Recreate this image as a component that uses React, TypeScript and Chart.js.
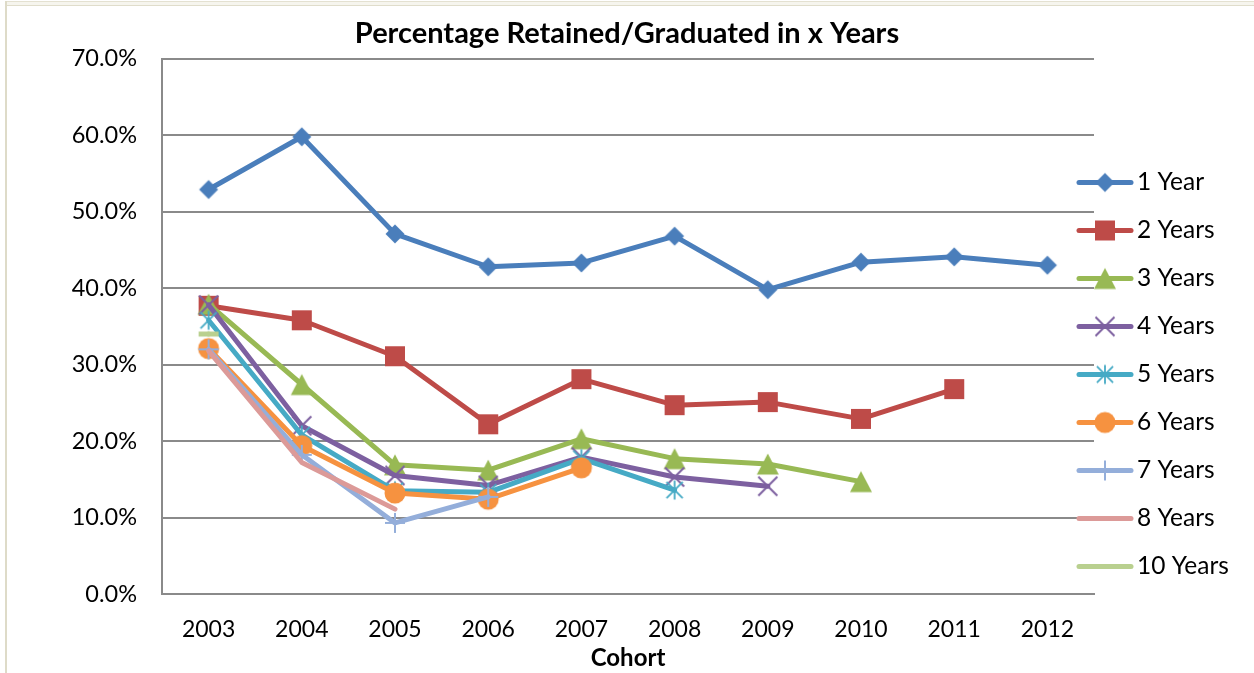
import React, { useEffect, useRef } from 'react';
import { Chart, registerables } from 'chart.js';

Chart.register(...registerables);

// ---------- data ----------
const categories = ['2003', '2004', '2005', '2006', '2007', '2008', '2009', '2010', '2011', '2012'];
const seriesNames = ['1 Year', '2 Years', '3 Years', '4 Years', '5 Years', '6 Years', '7 Years', '8 Years', '10 Years'];

const oneYear = [52.9, 59.8, 47.1, 42.8, 43.3, 46.8, 39.8, 43.4, 44.1, 43.0];
const twoYears = [37.7, 35.8, 31.1, 22.2, 28.1, 24.7, 25.1, 22.9, 26.8, null];
const threeYears = [37.9, 27.4, 16.9, 16.2, 20.3, 17.7, 17.0, 14.7, null, null];
const fourYears = [37.8, 22.0, 15.5, 14.2, 17.9, 15.3, 14.1, null, null, null];
const fiveYears = [35.8, 20.8, 13.5, 13.3, 17.7, 13.6, null, null, null, null];
const sixYears = [32.1, 19.4, 13.2, 12.4, 16.5, null, null, null, null, null];
const sevenYears = [32.0, 18.2, 9.3, 12.7, null, null, null, null, null, null];
const eightYears = [31.8, 17.2, 11.1, null, null, null, null, null, null, null];
const tenYears = [34.0, null, null, null, null, null, null, null, null, null];

const yMin = 0;
const yMax = 70;
const yStep = 10;

const chartTitle = 'Percentage Retained/Graduated in x Years';
const xTitle = 'Cohort';

// ---------- styles ----------
const FONT = 'Lato, "Open Sans", sans-serif';
const colors = ['#4A7EBB', '#BE4B48', '#98B954', '#7D60A0', '#46AAC5', '#F69240', '#94AEDA', '#DC9A98', '#B9D08F'];
const markerKinds = ['diamond', 'square', 'triangle', 'x', 'asterisk', 'circle', 'plus', 'none', 'dash'];
const seriesData = [oneYear, twoYears, threeYears, fourYears, fiveYears, sixYears, sevenYears, eightYears, tenYears];

function makeMarker(kind: string, color: string): HTMLCanvasElement | null {
  if (kind === 'none') return null;
  const s = 24;
  const c = document.createElement('canvas');
  c.width = s;
  c.height = s;
  const ctx = c.getContext('2d')!;
  const m = s / 2;
  ctx.fillStyle = color;
  ctx.strokeStyle = color;
  ctx.lineCap = 'butt';
  switch (kind) {
    case 'diamond': {
      const h = 9.5;
      ctx.beginPath();
      ctx.moveTo(m, m - h);
      ctx.lineTo(m + h, m);
      ctx.lineTo(m, m + h);
      ctx.lineTo(m - h, m);
      ctx.closePath();
      ctx.fill();
      break;
    }
    case 'square': {
      const h = 10;
      ctx.fillRect(m - h, m - h, 2 * h, 2 * h);
      break;
    }
    case 'triangle': {
      const hw = 11;
      const hh = 10.5;
      ctx.beginPath();
      ctx.moveTo(m, m - hh);
      ctx.lineTo(m + hw, m + hh);
      ctx.lineTo(m - hw, m + hh);
      ctx.closePath();
      ctx.fill();
      break;
    }
    case 'circle': {
      ctx.beginPath();
      ctx.arc(m, m, 10.5, 0, Math.PI * 2);
      ctx.fill();
      break;
    }
    case 'x': {
      const h = 9.5;
      ctx.lineWidth = 2;
      ctx.beginPath();
      ctx.moveTo(m - h, m - h);
      ctx.lineTo(m + h, m + h);
      ctx.moveTo(m + h, m - h);
      ctx.lineTo(m - h, m + h);
      ctx.stroke();
      break;
    }
    case 'asterisk': {
      const h = 9.5;
      ctx.lineWidth = 1.8;
      ctx.beginPath();
      ctx.moveTo(m - h * 0.85, m - h * 0.85);
      ctx.lineTo(m + h * 0.85, m + h * 0.85);
      ctx.moveTo(m + h * 0.85, m - h * 0.85);
      ctx.lineTo(m - h * 0.85, m + h * 0.85);
      ctx.moveTo(m, m - h);
      ctx.lineTo(m, m + h);
      ctx.stroke();
      break;
    }
    case 'plus': {
      const h = 10;
      ctx.lineWidth = 2;
      ctx.beginPath();
      ctx.moveTo(m, m - h);
      ctx.lineTo(m, m + h);
      ctx.moveTo(m - h, m);
      ctx.lineTo(m + h, m);
      ctx.stroke();
      break;
    }
    case 'dash': {
      ctx.fillRect(m - 10, m - 2.5, 20, 5);
      break;
    }
  }
  return c;
}

const LINE_W = 5;
const LEGEND_X_LINE0 = 1079;
const LEGEND_X_LINE1 = 1131;
const LEGEND_X_TEXT = 1137;
const LEGEND_Y0 = 182.5;
const LEGEND_STEP = 48;

export default function App() {
  const canvasRef = useRef<HTMLCanvasElement | null>(null);

  useEffect(() => {
    const canvas = canvasRef.current;
    if (!canvas) return;

    const markers = markerKinds.map((k, i) => makeMarker(k, colors[i]));

    const datasets = seriesNames.map((name, i) => ({
      label: name,
      data: seriesData[i],
      borderColor: colors[i],
      backgroundColor: colors[i],
      borderWidth: LINE_W,
      borderJoinStyle: 'round' as const,
      borderCapStyle: 'round' as const,
      tension: 0,
      pointStyle: markers[i] ? (markers[i] as any) : 'circle',
      pointRadius: markers[i] ? 10 : 0,
      pointHoverRadius: markers[i] ? 10 : 0,
      order: seriesNames.length - i,
      spanGaps: false,
    }));

    const legendPlugin = {
      id: 'excelLegend',
      afterDraw(chart: any) {
        const ctx = chart.ctx as CanvasRenderingContext2D;
        chart.data.datasets.forEach((ds: any, i: number) => {
          const y = LEGEND_Y0 + i * LEGEND_STEP;
          ctx.save();
          ctx.strokeStyle = ds.borderColor;
          ctx.lineWidth = LINE_W;
          ctx.lineCap = 'round';
          ctx.beginPath();
          ctx.moveTo(LEGEND_X_LINE0, y);
          ctx.lineTo(LEGEND_X_LINE1, y);
          ctx.stroke();
          const mk = markers[i];
          if (mk && markerKinds[i] !== 'dash') {
            ctx.drawImage(mk, (LEGEND_X_LINE0 + LEGEND_X_LINE1) / 2 - mk.width / 2, y - mk.height / 2);
          }
          ctx.fillStyle = '#000';
          ctx.font = `24.5px ${FONT}`;
          ctx.textBaseline = 'middle';
          ctx.textAlign = 'left';
          ctx.fillText(ds.label, LEGEND_X_TEXT, y);
          ctx.restore();
        });
      },
    };

    const chart = new Chart(canvas, {
      type: 'line',
      data: { labels: categories, datasets: datasets as any },
      options: {
        responsive: false,
        animation: false,
        devicePixelRatio: 1,
        layout: { padding: 0 },
        plugins: {
          legend: { display: false },
          tooltip: { enabled: false },
          title: {
            display: true,
            text: chartTitle,
            color: '#000',
            font: { family: FONT, size: 29, weight: 'bold' },
            padding: { top: 16, bottom: 8 },
          },
        },
        scales: {
          x: {
            type: 'category',
            offset: true,
            grid: { display: false, drawTicks: false },
            border: { display: true, color: '#8A8A8A', width: 2 },
            ticks: { color: '#000', font: { family: FONT, size: 23 }, padding: 22, maxRotation: 0, autoSkip: false },
            title: {
              display: true,
              text: xTitle,
              color: '#000',
              font: { family: FONT, size: 24, weight: 'bold' },
              padding: { top: 0, bottom: 0 },
            },
            afterFit: (s: any) => {
              s.height = 79;
            },
          },
          y: {
            min: yMin,
            max: yMax,
            grid: { color: '#8A8A8A', lineWidth: 2, drawTicks: false },
            border: { display: true, color: '#8A8A8A', width: 2 },
            ticks: {
              stepSize: yStep,
              color: '#000',
              font: { family: FONT, size: 23.5 },
              padding: 25,
              callback: (v: any) => Number(v).toFixed(1) + '%',
            },
            afterFit: (s: any) => {
              s.width = 162;
            },
          },
          spacer: {
            position: 'right',
            display: true,
            grid: { display: false, drawOnChartArea: false, drawTicks: false },
            border: { display: false },
            ticks: { display: false },
            afterFit: (s: any) => {
              s.width = 160;
            },
          },
        },
      } as any,
      plugins: [legendPlugin],
    });

    return () => {
      chart.destroy();
    };
  }, []);

  return (
    <div style={{ position: 'fixed', left: 0, top: 0, width: 1254, height: 673, background: '#fff', overflow: 'hidden' }}>
      <div style={{ position: 'absolute', left: 6, top: 1, width: 1248, height: 1, background: '#E4E1D1' }} />
      <div style={{ position: 'absolute', left: 6, top: 2, width: 1248, height: 3, background: '#F6F5EE' }} />
      <div style={{ position: 'absolute', left: 6, top: 5, width: 1248, height: 1, background: '#E0DDCB' }} />
      <div style={{ position: 'absolute', left: 5, top: 1, width: 2, height: 672, background: '#DEDBC8' }} />
      <canvas
        ref={canvasRef}
        width={1254}
        height={673}
        style={{ position: 'absolute', left: 0, top: 0, width: 1254, height: 673 }}
      />
    </div>
  );
}
